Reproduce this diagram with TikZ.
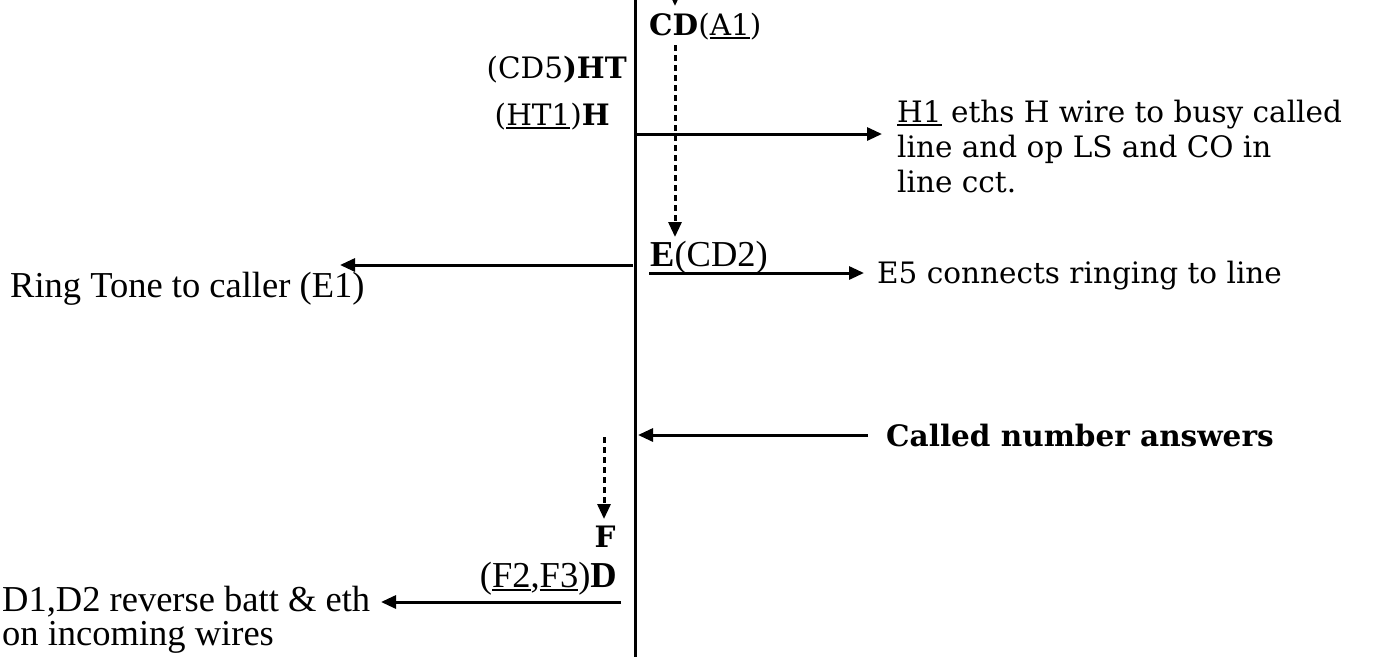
\documentclass[tikz,border=0pt]{standalone}
\usepackage{fontspec}
\setmainfont{DejaVu Serif}
\newfontfamily\tms{Liberation Serif}
\usetikzlibrary{arrows.meta}
\newcommand\myul[1]{\setbox0\hbox{#1}\rlap{\rule[-4pt]{\wd0}{1.8pt}}\box0\relax}
\tikzset{
  sb/.style={font=\fontsize{29.5}{35}\selectfont, inner sep=0pt},
  tm/.style={font=\tms\fontsize{36.5}{36}\selectfont, inner sep=0pt},
  flow/.style={line width=3pt, -{Triangle[length=15pt,width=13pt]}},
  dflow/.style={flow, dash pattern=on 6pt off 4pt},
  axisline/.style={line width=3pt},
}
\begin{document}
\begin{tikzpicture}[x=1pt,y=-1pt]
\useasboundingbox (0,0) rectangle (1377,657);
% main vertical line
\coordinate (top) at (635,0);
\coordinate (bot) at (635,657);
\draw[axisline] (top) -- (bot);

% texts
\node[sb, anchor=base west] (cd) at (649,35) {\textbf{CD}(\myul{A1})};
\node[sb, anchor=base east] (cd5) at (627,78) {(CD5\textbf{)HT}};
\node[sb, anchor=base east] (ht1) at (610,125) {(\myul{HT1})\textbf{H}};
\node[sb, anchor=base west] (h1a) at (897,122) {\myul{H1} eths H wire to busy called};
\node[sb, anchor=base west] (h1b) at (897,157) {line and op LS and CO in};
\node[sb, anchor=base west] (h1c) at (897,192) {line cct.};
\node[tm, anchor=base west] (e) at (650,266) {\textbf{E}(CD2)};
\node[sb, anchor=base west] (e5) at (877,283) {E5 connects ringing to line};
\node[tm, anchor=base west] (ring) at (10,297) {Ring Tone to caller (E1)};
\node[sb, anchor=base west] (called) at (886,446) {\textbf{Called number answers}};
\node[sb, anchor=base] (f) at (605,547) {\textbf{F}};
\node[tm, anchor=base east] (fd) at (617,587) {(\myul{F2},\myul{F3})\textbf{D}};
\node[tm, anchor=base west] (d1a) at (2,611) {D1,D2 reverse batt \& eth};
\node[tm, anchor=base west] (d1b) at (2,645) {on incoming wires};

% connector end points
\coordinate (topin) at (675,-25);
\coordinate (cdtip) at (675,6);
\coordinate (cdout) at (675,45);
\coordinate (etip) at (675,237);
\coordinate (hs) at (635,134);
\coordinate (he) at (882,134);
\coordinate (es) at (649,273);
\coordinate (ee) at (864,273);
\coordinate (rs) at (633,265);
\coordinate (re) at (340,265);
\coordinate (cs) at (868,435);
\coordinate (ce) at (638,435);
\coordinate (fs) at (604,437);
\coordinate (fe) at (604,519);
\coordinate (ds) at (621,602);
\coordinate (de) at (381,602);

% connectors
\draw[dflow] (topin) -- (cdtip);
\draw[dflow] (cdout) -- (etip);
\draw[flow] (hs) -- (he);
\draw[flow] (es) -- (ee);
\draw[flow] (rs) -- (re);
\draw[flow] (cs) -- (ce);
\draw[dflow] (fs) -- (fe);
\draw[flow] (ds) -- (de);
\end{tikzpicture}
\end{document}
